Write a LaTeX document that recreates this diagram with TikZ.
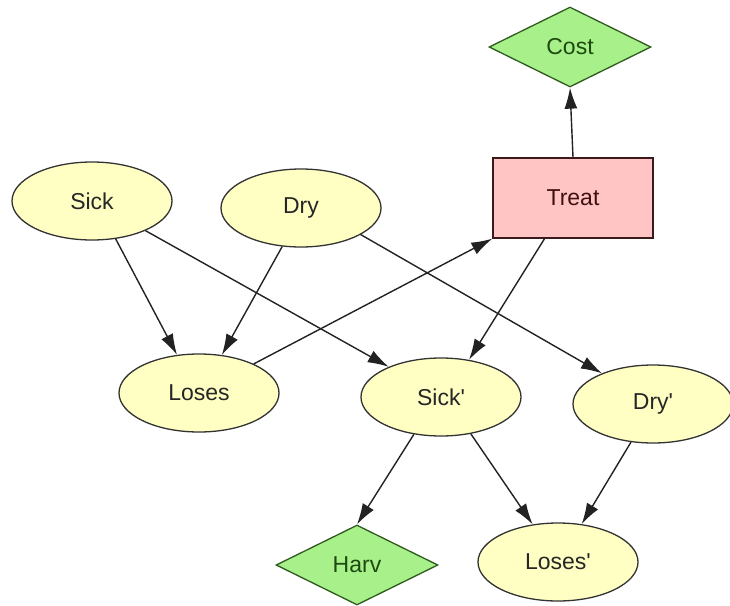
\documentclass[tikz,border=0pt]{standalone}
\usepackage{fontspec}
\newfontfamily\nodefont{Liberation Sans}
\usetikzlibrary{shapes.geometric,arrows.meta}
\definecolor{chancefill}{HTML}{FFFFC4}
\definecolor{chanceline}{HTML}{333333}
\definecolor{utilfill}{HTML}{A8F08A}
\definecolor{utilline}{HTML}{2E5A1E}
\definecolor{utiltext}{HTML}{1E4A10}
\definecolor{decfill}{HTML}{FFC4C4}
\definecolor{decline}{HTML}{3A1A1A}
\definecolor{dectext}{HTML}{401010}
\definecolor{edgecol}{HTML}{222222}
\begin{document}
\begin{tikzpicture}[x=1pt,y=-1pt,
  chance/.style={ellipse,draw=chanceline,fill=chancefill,line width=1.3pt,
    minimum width=160pt,minimum height=78pt,inner sep=0pt,
    font=\nodefont\fontsize{23}{26}\selectfont,text=black!85},
  util/.style={diamond,draw=utilline,fill=utilfill,line width=1.3pt,
    minimum width=162pt,minimum height=80pt,inner sep=0pt,
    font=\nodefont\fontsize{23}{26}\selectfont,text=utiltext},
  dec/.style={rectangle,draw=decline,fill=decfill,line width=1.3pt,
    minimum width=160pt,minimum height=80pt,inner sep=0pt,
    font=\nodefont\fontsize{23}{26}\selectfont,text=dectext},
  link/.style={draw=edgecol,line width=1.4pt,-{Latex[length=21pt,width=13pt]}}]
\useasboundingbox (0,0) rectangle (730,605);
\node[chance] (sick) at (92,201) {Sick};
\node[chance] (dry) at (301,208) {Dry};
\node[dec] (treat) at (573,198) {Treat};
\node[util] (cost) at (570,47) {Cost};
\node[chance] (loses) at (199,393) {Loses};
\node[chance] (sickp) at (441,397) {Sick'};
\node[chance] (dryp) at (653,404) {Dry'};
\node[util] (harv) at (357,565) {Harv};
\node[chance] (losesp) at (558,562) {Loses'};
\draw[link] (sick.-58) -- (loses.120);
\draw[link] (dry.-116) -- (loses.59);
\draw[link] (sick.-29) -- (sickp.150);
\draw[link] (treat.-125) -- (sickp.53);
\draw[link] (loses.28) -- (treat.south west);
\draw[link] (treat.north) -- (cost.south);
\draw[link] (dry.-24) -- (dryp.149);
\draw[link] (sickp.-126) -- (harv.north);
\draw[link] (sickp.-51) -- (losesp.124);
\draw[link] (dryp.-120) -- (losesp.58);
\end{tikzpicture}
\end{document}
